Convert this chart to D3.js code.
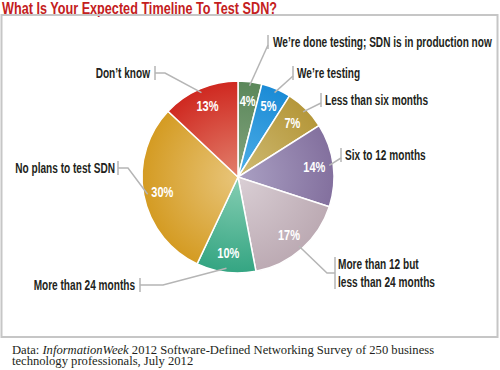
<!DOCTYPE html>
<html>
<head>
<meta charset="utf-8">
<script src="https://cdn.jsdelivr.net/npm/d3@7"></script>
<style>
  html, body { margin: 0; padding: 0; background: #fff; }
  svg { display: block; }
  .sans { font-family: "Liberation Sans", Arial, sans-serif; font-weight: bold; }
  .serif { font-family: "Liberation Serif", "DejaVu Serif", serif; font-size: 12.6px; }
</style>
</head>
<body>
<div id="chart"></div>
<script>
// values, clockwise from 12 o'clock
const categories = [
  "We\u2019re done testing; SDN is in production now",
  "We\u2019re testing",
  "Less than six months",
  "Six to 12 months",
  "More than 12 but|less than 24 months",
  "More than 24 months",
  "No plans to test SDN",
  "Don\u2019t know"
];
const values = [4, 5, 7, 14, 17, 10, 30, 13];

// outer / inner colours of each slice gradient
const colors = ['#5b875a', '#1b8bd6', '#b5973a', '#83709e', '#bcaab3', '#34a582', '#d49b22', '#cf2820'];
const colors_light = ['#82a47e', '#4eaee6', '#cfbb74', '#aaa0c3', '#dacfd5', '#86ceb3', '#e8c57a', '#e2806c'];

/**
 * where each callout label sits: text anchor, vertical bar, optional elbow
 */
const callouts = [
  { side: 'right', x: 273, y: 42, bar: 268 },
  { side: 'right', x: 297, y: 73, bar: 293 },
  { side: 'right', x: 325, y: 100, bar: 321 },
  { side: 'right', x: 345, y: 155, bar: 341 },
  { side: 'right', x: 338, y: 264, bar: 335, elbow: 327 },
  { side: 'left', x: 135, y: 285, bar: 140, elbow: 163 },
  { side: 'left', x: 115, y: 168, bar: 118, elbow: 128 },
  { side: 'left', x: 150, y: 73, bar: 155, elbow: 165 }
];

const width = 500, height = 370;
const cx = 238, cy = 177, radius = 96;

// no condensed face installed, so squeeze the regular bold one
const squeeze = 0.72;
function condense(sel, k) {
  sel.each(function() {
    let w = this.getComputedTextLength();
    d3.select(this)
      .attr('textLength', w * k)
      .attr('lengthAdjust', 'spacingAndGlyphs');
  });
}

const svg = d3.select('#chart').append('svg')
  .attr('width', width)
  .attr('height', height);

// title
svg.append('text')
  .attr('class', 'sans')
  .attr('x', 2)
  .attr('y', 13.5)
  .attr('fill', '#c4201d')
  .style('font-size', '16.5px')
  .attr('textLength', 275)
  .attr('lengthAdjust', 'spacingAndGlyphs')
  .text('What Is Your Expected Timeline To Test SDN?');

// frame
svg.append('rect')
  .attr('x', 1.5)
  .attr('y', 15)
  .attr('width', 496)
  .attr('height', 322)
  .attr('fill', 'none')
  .attr('stroke', '#c6c6c6')
  .attr('stroke-width', 2);

const defs = svg.append('defs');
colors.forEach((c, i) => {
  let grad = defs.append('radialGradient')
    .attr('id', 'slice' + i)
    .attr('gradientUnits', 'userSpaceOnUse')
    .attr('cx', 0).attr('cy', 0).attr('r', radius);
  grad.append('stop').attr('offset', '0%').attr('stop-color', colors_light[i]);
  grad.append('stop').attr('offset', '100%').attr('stop-color', c);
});

const pie = d3.pie().sort(null).value(d => d);
const arcs = pie(values);

const arc = d3.arc().innerRadius(0).outerRadius(radius);
const label_arc = d3.arc().innerRadius(77).outerRadius(77);
const leader_arc = d3.arc().innerRadius(92).outerRadius(92);

const g = svg.append('g').attr('transform', `translate(${cx},${cy})`);

g.selectAll('path.slice')
  .data(arcs)
  .enter().append('path')
  .attr('class', 'slice')
  .attr('d', arc)
  .attr('fill', (d, i) => `url(#slice${i})`)
  .attr('stroke', '#fff')
  .attr('stroke-width', 1.5);

g.selectAll('text.pct')
  .data(arcs)
  .enter().append('text')
  .attr('class', 'pct sans')
  .attr('transform', d => `translate(${label_arc.centroid(d)})`)
  .attr('text-anchor', 'middle')
  .attr('dy', '0.35em')
  .attr('fill', '#fff')
  .style('font-size', '14.5px')
  .text(d => d.data + '%')
  .call(condense, 0.76);

// callouts: vertical bar, leader line, label
const line_color = '#b5b5b5';
const callout_g = svg.append('g');

arcs.forEach((d, i) => {
  let c = callouts[i];
  let lines = categories[i].split('|');
  let line_h = 18;
  let top = c.y - 7, bottom = c.y + 7 + (lines.length - 1) * line_h;
  let mid = (top + bottom) / 2;
  let [ex, ey] = leader_arc.centroid(d);
  ex += cx; ey += cy;

  callout_g.append('line')
    .attr('x1', c.bar).attr('x2', c.bar)
    .attr('y1', top).attr('y2', bottom)
    .attr('stroke', line_color).attr('stroke-width', 1.5);

  let pts = c.elbow !== undefined
    ? [[c.bar, mid], [c.elbow, mid], [ex, ey]]
    : [[c.bar, mid + 3], [ex, ey]];
  callout_g.append('path')
    .attr('d', d3.line()(pts))
    .attr('fill', 'none')
    .attr('stroke', line_color)
    .attr('stroke-width', 1.5);

  lines.forEach((s, k) => {
    callout_g.append('text')
      .attr('class', 'sans')
      .attr('x', c.x)
      .attr('y', c.y + k * line_h)
      .attr('dy', '0.35em')
      .attr('text-anchor', c.side === 'right' ? 'start' : 'end')
      .attr('fill', '#231f20')
      .style('font-size', '14px')
      .text(s)
      .call(condense, squeeze);
  });
});

// source note, pieced together so the italic title sits inline
const note_parts = [
  { text: 'Data: ', italic: false },
  { text: 'InformationWeek', italic: true },
  { text: ' 2012 Software-Defined Networking Survey of 250 business', italic: false }
];
let note_x = 12;
note_parts.forEach(p => {
  let t = svg.append('text')
    .attr('class', 'serif')
    .attr('x', note_x)
    .attr('y', 354)
    .attr('fill', '#231f20')
    .style('font-style', p.italic ? 'italic' : 'normal')
    .style('white-space', 'pre')
    .text(p.text);
  note_x += t.node().getComputedTextLength();
});
svg.append('text')
  .attr('class', 'serif')
  .attr('x', 12)
  .attr('y', 365)
  .attr('fill', '#231f20')
  .text('technology professionals, July 2012');
</script>
</body>
</html>
